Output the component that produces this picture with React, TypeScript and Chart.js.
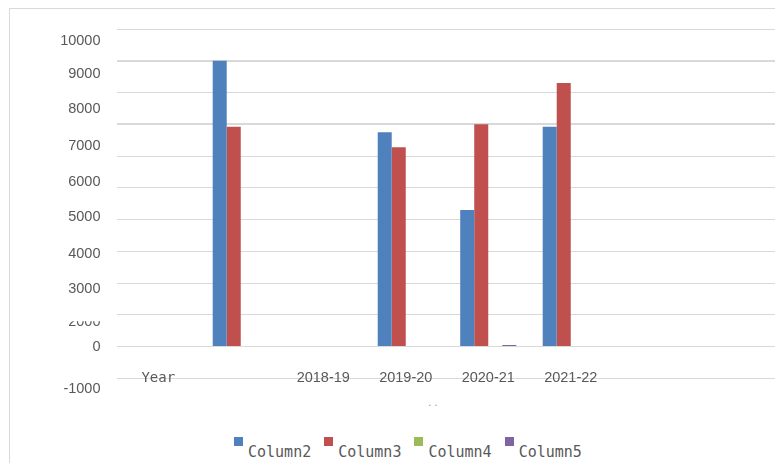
import { useEffect, useRef } from "react";
import { Chart, registerables } from "chart.js";

Chart.register(...registerables);

// ---- data ----
const categories = ["Year", "", "2018-19", "2019-20", "2020-21", "2021-22", "", ""];
const column2 = [null, 9000, null, 6750, 4300, 6920, null, null];
const column3 = [null, 6920, null, 6280, 7000, 8300, null, null];
const column4 = [null, null, null, null, null, null, null, null];
const column5 = [null, null, null, null, 50, null, null, null];
const seriesNames = ["Column2", "Column3", "Column4", "Column5"];
const yTickLabels = ["10000", "9000", "8000", "7000", "6000", "5000", "4000", "3000", "2000", "0", "-1000"];

// ---- styling / layout ----
const seriesColors = ["#4F81BD", "#C0504D", "#9BBB59", "#8064A2"];
const TEXT = "#595959";
const GRID = "#d9d9d9";
// value on the y scale where each value label is drawn (the labels drift from their gridlines)
const labelSlots = [9613, 8589, 7465, 6309, 5181, 4069, 2920, 1805, 787, -22, -1345];
const CLIPPED_LABEL = "2000";

const valueLabels = {
  id: "valueLabels",
  afterDraw(chart: any) {
    const { ctx, chartArea } = chart;
    const y = chart.scales.y;
    ctx.save();
    ctx.font = "14.5px 'Liberation Sans', Arial, sans-serif";
    ctx.fillStyle = TEXT;
    ctx.textAlign = "right";
    ctx.textBaseline = "middle";
    const x = chartArea.left - 16.5;
    yTickLabels.forEach((text, i) => {
      ctx.save();
      if (text === CLIPPED_LABEL) {
        const top = y.getPixelForValue(800);
        ctx.beginPath();
        ctx.rect(0, top, chartArea.left, 40);
        ctx.clip();
      }
      ctx.fillText(text, x, y.getPixelForValue(labelSlots[i]));
      ctx.restore();
    });
    // collapsed axis title
    ctx.font = "10px 'DejaVu Sans', sans-serif";
    ctx.fillStyle = "#8c8c8c";
    ctx.textAlign = "center";
    ctx.textBaseline = "alphabetic";
    ctx.fillText(". .", (chartArea.left + chartArea.right) / 2 - 14, chartArea.bottom + 27.7);
    ctx.restore();
  },
};

export default function App() {
  const canvasRef = useRef<HTMLCanvasElement | null>(null);

  useEffect(() => {
    if (!canvasRef.current) return;
    const series = [column2, column3, column4, column5];
    const chart = new Chart(canvasRef.current, {
      type: "bar",
      data: {
        labels: categories,
        datasets: series.map((values, i) => ({
          label: seriesNames[i],
          data: values,
          backgroundColor: seriesColors[i],
          borderWidth: 0,
          barPercentage: 1,
          categoryPercentage: 0.68,
        })),
      },
      options: {
        animation: false,
        responsive: false,
        maintainAspectRatio: false,
        layout: { padding: { top: 20, right: 6, left: 0, bottom: 0 } },
        plugins: { legend: { display: false }, tooltip: { enabled: false } },
        scales: {
          x: {
            grid: { display: false, drawTicks: false },
            border: { display: false },
            ticks: {
              color: TEXT,
              mirror: true,
              padding: -8.7,
              maxRotation: 0,
              font: (c: any) =>
                c.index === 0
                  ? { family: "'DejaVu Sans Mono', monospace", size: 14 }
                  : { family: "'Liberation Sans', Arial, sans-serif", size: 14.5 },
            },
            afterFit: (s: any) => {
              s.height = 50.7;
            },
          },
          y: {
            min: -1000,
            max: 10000,
            ticks: { display: false, stepSize: 1000 },
            grid: {
              color: GRID,
              drawTicks: false,
              lineWidth: (c: any) => (c.tick && (c.tick.value === 9000 || c.tick.value === 7000) ? 2 : 1),
            },
            border: { display: false },
            afterFit: (s: any) => {
              s.width = 107;
            },
          },
        },
      },
      plugins: [valueLabels],
    });
    return () => chart.destroy();
  }, []);

  return (
    <div
      style={{
        position: "relative",
        marginLeft: 1,
        width: 774,
        height: 455,
        boxSizing: "border-box",
        borderTop: `1px solid ${GRID}`,
        borderLeft: `1px solid ${GRID}`,
        background: "#fff",
        overflow: "hidden",
      }}
    >
      <canvas ref={canvasRef} width={773} height={420} style={{ display: "block" }} />
      <div style={{ position: "absolute", left: 224, top: 428, display: "flex", alignItems: "flex-start" }}>
        {seriesNames.map((name, i) => (
          <div key={name} style={{ display: "flex", alignItems: "flex-start", marginRight: 13 }}>
            <span style={{ width: 9, height: 9, background: seriesColors[i], display: "block" }} />
            <span
              style={{
                marginLeft: 5,
                marginTop: 8,
                font: "15px 'DejaVu Sans Mono', monospace",
                lineHeight: "15px",
                color: TEXT,
                whiteSpace: "nowrap",
              }}
            >
              {name}
            </span>
          </div>
        ))}
      </div>
    </div>
  );
}
